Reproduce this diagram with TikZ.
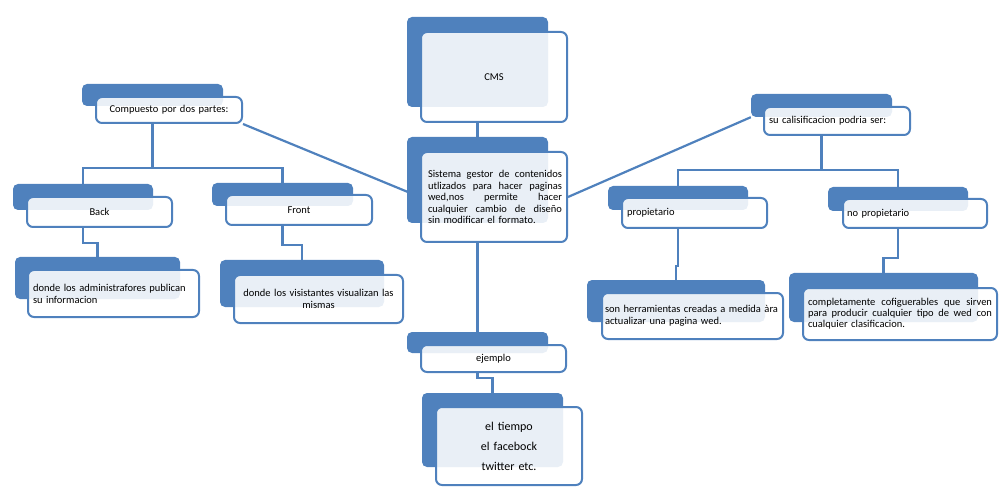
\documentclass[tikz,border=0pt]{standalone}
\usepackage{fontspec}
\setmainfont{Carlito}
\usetikzlibrary{backgrounds}
\definecolor{tabblue}{RGB}{79,129,189}
\newcommand{\justline}[2]{\makebox[#1][s]{\spaceskip=0pt\xspaceskip=0pt #2}}

\begin{document}
\begin{tikzpicture}[x=1pt,y=-1pt,font=\fontsize{10.5}{12}\selectfont,
    bluetab/.style={rectangle,rounded corners=5pt,fill=tabblue,inner sep=0pt},
    whitecard/.style={rectangle,rounded corners=6pt,draw=tabblue,line width=2pt,fill=white,
      fill opacity=.88,text opacity=1,inner xsep=5pt,inner ysep=0pt},
    conn/.style={draw=tabblue,line width=2.2pt}]
  \useasboundingbox (0,0) rectangle (1007,497);

  % center column
  \node[bluetab,minimum width=141pt,minimum height=90pt] (cmstab) at (477.5,62) {};
  \node[whitecard,minimum width=146pt,minimum height=90pt,text width=136pt,align=center] (cmsbox) at (494,77) {CMS};
  \node[bluetab,minimum width=141pt,minimum height=86pt] (sistab) at (477.5,180) {};
  \node[whitecard,minimum width=146pt,minimum height=90pt,inner xsep=7pt,text width=132pt,align=left,
        font=\fontsize{10.5}{11.5}\selectfont] (sisbox) at (494,197)
       {\justline{134pt}{Sistema gestor de contenidos}\\
        \justline{134pt}{utlizados para hacer paginas}\\
        \justline{134pt}{wed,nos permite hacer}\\
        \justline{134pt}{cualquier cambio de diseño}\\
        sin modificar el formato.};
  \node[bluetab,minimum width=141pt,minimum height=21pt] (ejtab) at (477.5,342.5) {};
  \node[whitecard,minimum width=145pt,minimum height=27pt,text width=135pt,align=center] (ejbox) at (493.5,358.5) {ejemplo};
  \node[bluetab,minimum width=141pt,minimum height=74pt] (tiemtab) at (492.5,430) {};
  \node[whitecard,minimum width=146pt,minimum height=78pt,text width=136pt,align=center,
        font=\fontsize{12}{20}\selectfont] (tiembox) at (509,446)
       {el tiempo\\ el facebock\\ twitter etc.};

  % left branch
  \node[bluetab,minimum width=141pt,minimum height=22pt] (comptab) at (152.5,95) {};
  \node[whitecard,minimum width=146pt,minimum height=26pt,text width=136pt,align=center] (compbox) at (169,110) {Compuesto por dos partes:};
  \node[bluetab,minimum width=140pt,minimum height=26pt] (backtab) at (83,197) {};
  \node[whitecard,minimum width=145pt,minimum height=30pt,text width=135pt,align=center] (backbox) at (99.5,212) {Back};
  \node[bluetab,minimum width=141pt,minimum height=23pt] (fronttab) at (282.5,194.5) {};
  \node[whitecard,minimum width=146pt,minimum height=30pt,text width=136pt,align=center] (frontbox) at (299,210) {Front};
  \node[bluetab,minimum width=165pt,minimum height=42pt] (admintab) at (97.5,278) {};
  \node[whitecard,minimum width=171pt,minimum height=47pt,text width=161pt,align=left] (adminbox) at (113.5,293.5)
       {donde los administrafores publican\\ su informacion};
  \node[bluetab,minimum width=164pt,minimum height=47pt] (vistab) at (302,283.5) {};
  \node[whitecard,minimum width=169pt,minimum height=48pt,text width=159pt,align=center] (visbox) at (318.5,299)
       {donde los visistantes visualizan las\\ mismas};

  % right branch
  \node[bluetab,minimum width=141pt,minimum height=23pt] (sutab) at (821.5,105.5) {};
  \node[whitecard,minimum width=146pt,minimum height=28pt,text width=136pt,align=left] (subox) at (837,121) {su calisificacion podria ser:};
  \node[bluetab,minimum width=140pt,minimum height=24pt] (proptab) at (678,198) {};
  \node[whitecard,minimum width=145pt,minimum height=30pt,text width=135pt,align=left] (propbox) at (694.5,213) {propietario};
  \node[bluetab,minimum width=140pt,minimum height=24pt] (noproptab) at (898,199) {};
  \node[whitecard,minimum width=144pt,minimum height=29pt,text width=136pt,inner xsep=4pt,align=left] (nopropbox) at (915,213.5) {no propietario};
  \node[bluetab,minimum width=178pt,minimum height=42pt] (sontab) at (676,301) {};
  \node[whitecard,minimum width=181pt,minimum height=46pt,inner xsep=3pt,text width=175pt,align=left] (sonbox) at (692.5,316)
       {son herramientas creadas a medida àra\\ actualizar una pagina wed.};
  \node[bluetab,minimum width=189pt,minimum height=49pt] (cfgtab) at (883.5,297.5) {};
  \node[whitecard,minimum width=194pt,minimum height=52pt,text width=184pt,align=left,
        font=\fontsize{10.5}{10.8}\selectfont] (cfgbox) at (900,314)
       {\justline{184pt}{completamente cofiguerables que sirven}\\
        \justline{184pt}{para producir cualquier tipo de wed con}\\
        cualquier clasificacion.};

  \coordinate (compjoin) at (152.5,168);
  \coordinate (sujoin) at (821.5,170);

  % connectors
  \begin{scope}[on background layer]
    \draw[conn] (cmsbox.south -| cmstab.south) -- (sistab.north);
    \draw[conn] (sisbox.south -| sistab.south) -- (ejtab.north);
    \draw[conn] (ejbox.south -| ejtab.south) -- ++(0,5) -| (tiemtab.north);
    \draw[conn] (compbox.south east) -- (sisbox.west);
    \draw[conn] (sisbox.east) -- (sutab.south west);
    \draw[conn] (compbox.south -| comptab.south) -- (compjoin);
    \draw[conn] (backtab.north) |- (compjoin) -| (fronttab.north);
    \draw[conn] (backbox.south -| backtab.south) -- ++(0,15) -| (admintab.north);
    \draw[conn] (frontbox.south -| fronttab.south) -- ++(0,19) -| (vistab.north);
    \draw[conn] (subox.south -| sutab.south) -- (sujoin);
    \draw[conn] (proptab.north) |- (sujoin) -| (noproptab.north);
    \draw[conn] (propbox.south -| proptab.south) -- ++(0,37) -| (sontab.north);
    \draw[conn] (nopropbox.south -| noproptab.south) -- ++(0,29) -| (cfgtab.north);
  \end{scope}
\end{tikzpicture}
\end{document}
